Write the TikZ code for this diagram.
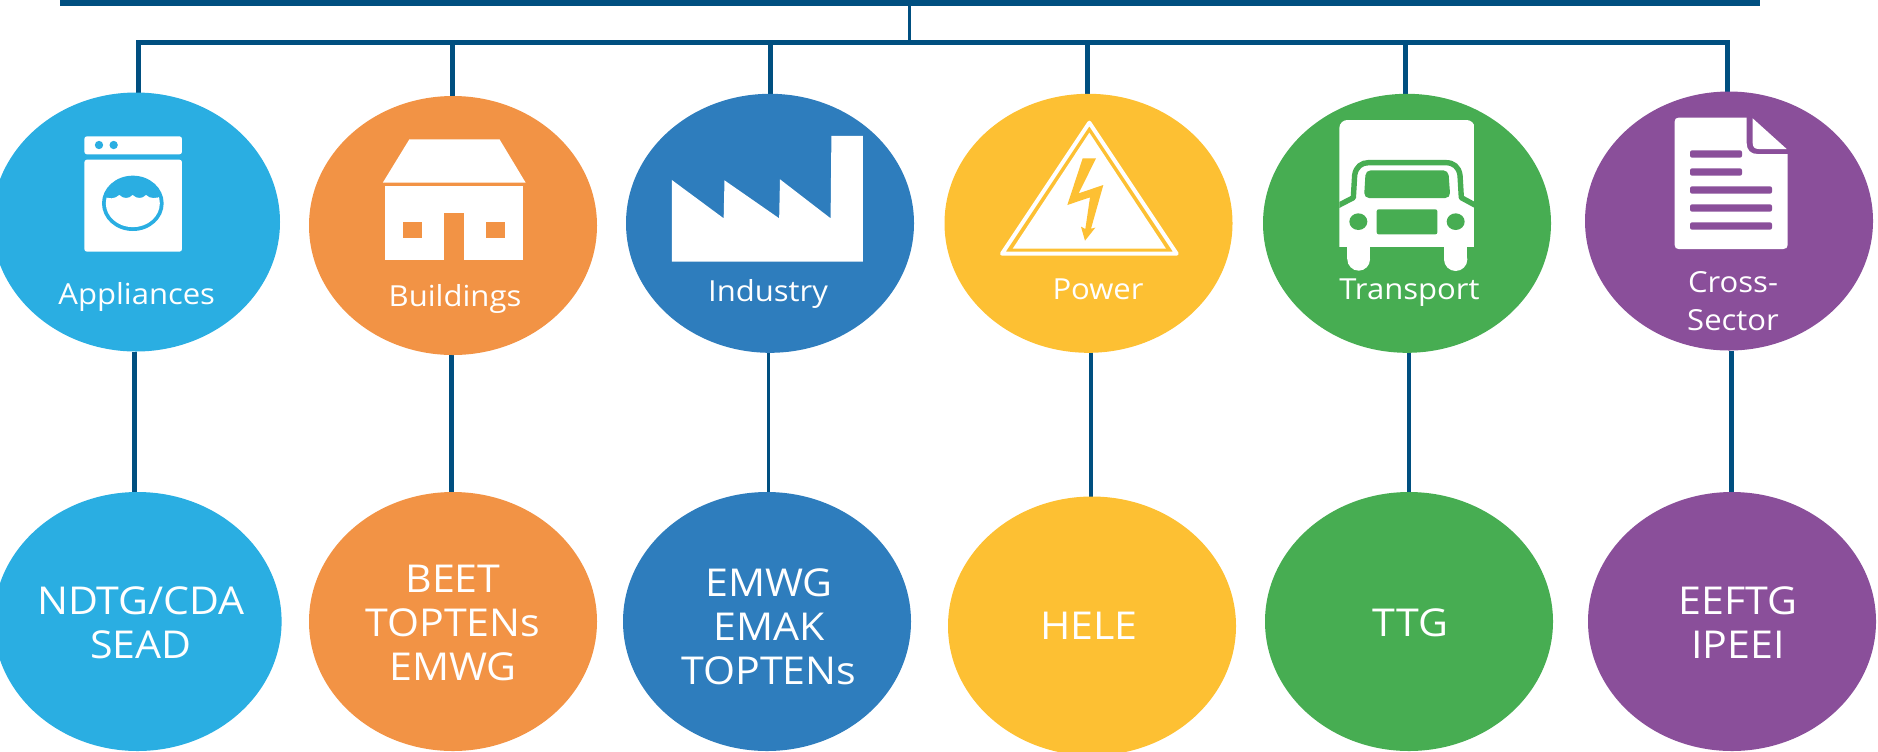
\documentclass[tikz,border=0pt]{standalone}
\usepackage{fontspec}
\setmainfont{Open Sans}[FakeStretch=1.07]
\usetikzlibrary{shapes.geometric,backgrounds}
\definecolor{cApp}{HTML}{2AAEE2}
\definecolor{cBld}{HTML}{F29345}
\definecolor{cInd}{HTML}{2E7DBD}
\definecolor{cPow}{HTML}{FDC033}
\definecolor{cTra}{HTML}{47AD52}
\definecolor{cCro}{HTML}{8A4F9A}
\definecolor{cNavy}{HTML}{004F80}
\tikzset{
  blob/.style={ellipse,fill=#1,draw=none,inner sep=0pt,outer sep=0pt,minimum width=144pt,minimum height=129.5pt},
  toplabel/.style={text=white,anchor=base,align=center,inner sep=0pt,font=\fontsize{14.5}{19}\selectfont},
  botlabel/.style={text=white,anchor=base,align=center,inner sep=0pt,font=\fontsize{19.2}{22}\selectfont},
  wire/.style={draw=cNavy,line width=2.5pt},
  thinwire/.style={draw=cNavy,line width=1.9pt},
  iconz/.style={x=0.5pt/3,y=-0.5pt/3},
  icons/.style={x=0.5pt/2.45,y=-0.5pt/3},
}
\begin{document}
\begin{tikzpicture}[x=0.5pt,y=-0.5pt]
\useasboundingbox (0,0) rectangle (1878,751);
\clip (0,0) rectangle (1878,751);
% title bar
\node[fill=cNavy,inner sep=0pt,outer sep=0pt,minimum width=849.8pt,minimum height=3.2pt,anchor=north west] (bar) at (60.4,0) {};
% sector ellipses
\node[blob=cApp] (app) at (136,222) {};
\node[blob=cBld] (bld) at (453,225.5) {};
\node[blob=cInd] (ind) at (770,223.3) {};
\node[blob=cPow] (pow) at (1088.5,223.3) {};
\node[blob=cTra] (tra) at (1407,223.3) {};
\node[blob=cCro] (cro) at (1729,221) {};
% group ellipses
\node[blob=cApp] (gapp) at (137.6,621.5) {};
\node[blob=cBld] (gbld) at (453,621.5) {};
\node[blob=cInd] (gind) at (767,621.5) {};
\node[blob=cPow] (gpow) at (1092,626) {};
\node[blob=cTra] (gtra) at (1409,621.5) {};
\node[blob=cCro] (gcro) at (1732,621.5) {};
% connector anchors
\coordinate (hub) at (909.4,42);
\coordinate (t1) at (138.4,42);
\coordinate (t2) at (452,42);
\coordinate (t3) at (770.4,42);
\coordinate (t4) at (1087,42);
\coordinate (t5) at (1405.7,42);
\coordinate (t6) at (1727,42);
\coordinate (b1) at (134.7,400);
\coordinate (b2) at (451,400);
\coordinate (b3) at (768.4,400);
\coordinate (b4) at (1090.6,400);
\coordinate (b5) at (1409,400);
\coordinate (b6) at (1731.4,400);
\begin{scope}[on background layer]
\draw[thinwire] (bar.south -| hub) -- (hub);
\draw[wire,line join=miter] (t1 |- app.north) -- (t1) -- (t6) -- (t6 |- cro.north);
\draw[wire] (t2) -- (t2 |- bld.north);
\draw[wire] (t3) -- (t3 |- ind.north);
\draw[wire] (t4) -- (t4 |- pow.north);
\draw[wire] (t5) -- (t5 |- tra.north);
\draw[wire] (b1 |- app.south) -- (b1 |- gapp.north);
\draw[wire] (b2 |- bld.south) -- (b2 |- gbld.north);
\draw[thinwire] (b3 |- ind.south) -- (b3 |- gind.north);
\draw[thinwire] (b4 |- pow.south) -- (b4 |- gpow.north);
\draw[thinwire] (b5 |- tra.south) -- (b5 |- gtra.north);
\draw[wire] (b6 |- cro.south) -- (b6 |- gcro.north);
\end{scope}
% washing machine
\begin{scope}[shift={(75,125)},iconz]
\fill[white,rounded corners=1.3pt] (28,88) -- (28,34) -- (321,34) -- (321,88) -- cycle;
\fill[cApp] (72,60) circle (12.5) (116,60) circle (12.5);
\fill[white,rounded corners=1.3pt] (28,380) -- (28,104) -- (321,104) -- (321,380) -- cycle;
\fill[cApp] (173.5,235) ellipse [x radius=92.5,y radius=83];
\begin{scope}
\clip (85,212) .. controls (100,224) and (120,222) .. (133,210) .. controls (145,222) and (162,222) .. (173,210) .. controls (185,222) and (202,222) .. (213,210) .. controls (225,222) and (245,222) .. (262,212) -- (262,320) -- (85,320) -- cycle;
\fill[white] (173.5,235) ellipse [x radius=81,y radius=71.5];
\end{scope}
\end{scope}
% house
\begin{scope}[icons]
\fill[white] (1003,418) -- (1224,418) -- (1288,548) -- (938,548) -- cycle;
\fill[white] (943,557) rectangle (1281,780);
\fill[cBld] (1089,640) rectangle (1138,781);
\fill[cBld] (988,666) rectangle (1035,713);
\fill[cBld] (1190,666) rectangle (1237,713);
\end{scope}
% factory
\begin{scope}[shift={(620,0)},icons]
\fill[white] (127,540) -- (254,655) -- (256,541) -- (390,655) -- (392,538) -- (516,655) -- (518,408) -- (595,408) -- (595,785) -- (127,785) -- cycle;
\end{scope}
% warning triangle
\begin{scope}[shift={(990,110)},iconz]
\draw[white,line width=2pt,line join=round] (298,38) -- (36,431) -- (560,431) -- cycle;
\fill[white] (298,68) -- (528,416) -- (68,416) -- cycle;
\fill[cPow] (278,145) -- (318,145) -- (266,250) -- (340,225) -- (303,356) -- (316,353) -- (285,392) -- (273,350) -- (286,357) -- (300,262) -- (232,285) -- cycle;
\end{scope}
% truck
\begin{scope}[shift={(1330,110)},iconz]
\begin{scope}
\clip[rounded corners=4pt] (28,500) -- (28,30) -- (434,30) -- (434,500) -- cycle;
\fill[white] (28,30) rectangle (434,412);
\draw[cTra,line width=2.7pt,line join=round] (20,289) -- (70,263) -- (74,195) .. controls (78,170) and (95,158) .. (115,158) -- (348,158) .. controls (370,158) and (386,170) .. (390,195) -- (394,263) -- (442,289);
\end{scope}
\fill[cTra,rounded corners=2.5pt] (102,264) -- (107,181) -- (355,181) -- (361,264) -- cycle;
\fill[cTra] (85,335) ellipse [x radius=27,y radius=25];
\fill[cTra] (377,335) ellipse [x radius=27,y radius=25];
\fill[cTra,rounded corners=1pt] (140,373) -- (140,298) -- (322,298) -- (322,373) -- cycle;
\fill[white] (52,405) rectangle (120,448);
\fill[white] (86,448) circle (34);
\fill[white] (342,405) rectangle (412,448);
\fill[white] (377,448) circle (35);
\end{scope}
% document
\begin{scope}[shift={(1660,105)},iconz]
\fill[white] (56,38) -- (260,38) -- (260,115) .. controls (260,135) and (272,147) .. (292,147) -- (383,147) -- (383,420) .. controls (383,428) and (378,432) .. (370,432) -- (56,432) .. controls (48,432) and (44,428) .. (44,420) -- (44,50) .. controls (44,42) and (48,38) .. (56,38) -- cycle;
\fill[white] (278,40) -- (380,132) -- (296,132) .. controls (284,132) and (278,126) .. (278,114) -- cycle;
\fill[cCro,rounded corners=1pt] (90,136) rectangle (246,158);
\fill[cCro,rounded corners=1pt] (90,190) rectangle (246,212);
\fill[cCro,rounded corners=1pt] (90,244) rectangle (336,266);
\fill[cCro,rounded corners=1pt] (90,298) rectangle (336,320);
\fill[cCro,rounded corners=1pt] (90,352) rectangle (336,374);
\end{scope}
% labels
\node[toplabel] (lapp) at (136.7,304) {Appliances};
\node[toplabel] (lbld) at (455,306) {Buildings};
\node[toplabel] (lind) at (768,301.7) {Industry};
\node[toplabel] (lpow) at (1098,299.3) {Power};
\node[toplabel] (ltra) at (1409.4,299.3) {Transport};
\node[toplabel] (lcro) at (1733,330.7) {Cross-\\Sector};
\node[botlabel] (lgapp) at (141,658) {NDTG/CDA\\SEAD};
\node[botlabel] (lgbld) at (453,680) {BEET\\TOPTENs\\EMWG};
\node[botlabel] (lgind) at (769,684) {EMWG\\EMAK\\TOPTENs};
\node[botlabel] (lgpow) at (1089,639) {HELE};
\node[botlabel] (lgtra) at (1410.6,636) {TTG};
\node[botlabel] (lgcro) at (1738,658) {EEFTG\\IPEEI};
\end{tikzpicture}
\end{document}
